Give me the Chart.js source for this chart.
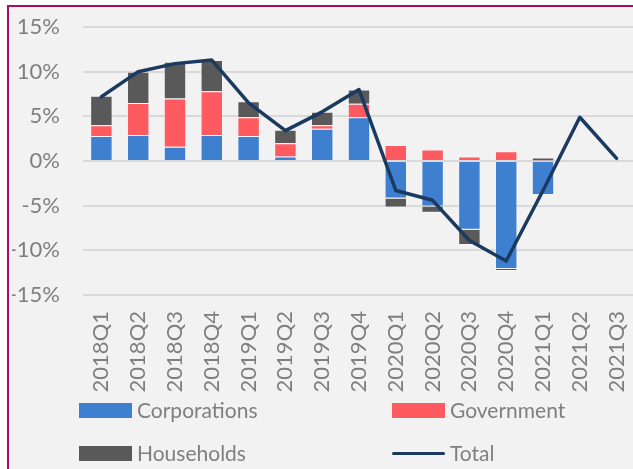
<!DOCTYPE html>
<html>
<head>
<meta charset="utf-8">
<script src="https://cdn.jsdelivr.net/npm/chart.js@4/dist/chart.umd.min.js"></script>
<style>
  html, body { margin: 0; padding: 0; background: #fff; overflow: hidden; width: 633px; height: 469px; }
  .frame {
    position: absolute; left: 7px; top: 5px; width: 640px; height: 480px;
    border-left: 2px solid #a5105c; border-top: 2px solid #a5105c;
    background: #f2f2f2;
  }
  #chart { position: absolute; left: 0; top: 0; }
  .legend { position: absolute; font-family: Lato, sans-serif; font-size: 21px; color: #7f7f7f; }
  .item { position: absolute; height: 24px; line-height: 24px; white-space: nowrap; }
  .swatch { position: absolute; left: 0; top: 5px; width: 53px; height: 15px; }
  .swatch.line { top: 11px; height: 3px; border-radius: 2px; }
  .item span { position: absolute; left: 58px; top: 0; }
</style>
</head>
<body>
<div class="frame">
  <canvas id="chart" width="630" height="462"></canvas>
  <div class="legend" id="legend"></div>
</div>
<script>
const categories = ['2018Q1', '2018Q2', '2018Q3', '2018Q4', '2019Q1', '2019Q2', '2019Q3', '2019Q4',
  '2020Q1', '2020Q2', '2020Q3', '2020Q4', '2021Q1', '2021Q2', '2021Q3'];
const corporations = [2.8, 2.9, 1.6, 2.9, 2.8, 0.5, 3.6, 4.9, -4.2, -5.1, -7.7, -12.1, -3.8, null, null];
const government = [1.2, 3.6, 5.4, 4.9, 2.1, 1.5, 0.4, 1.5, 1.8, 1.3, 0.5, 1.1, 0.05, null, null];
const households = [3.3, 3.5, 4.1, 3.5, 1.8, 1.5, 1.5, 1.6, -1.0, -0.7, -1.7, -0.2, 0.35, null, null];
const total = [7.2, 10.0, 10.9, 11.3, 6.5, 3.4, 5.5, 8.0, -3.3, -4.4, -8.9, -11.2, -3.3, 4.9, 0.3];
const yTicks = [-15, -10, -5, 0, 5, 10, 15];

const colors = {
  corporations: '#3f7fd0',
  government: '#ff5a5f',
  households: '#595959',
  total: '#1b3a60'
};
const tickFont = { family: 'Lato, sans-serif', size: 22 };
const tickColor = '#7f7f7f';

function barSet(label, data, color) {
  return {
    type: 'bar', label: label, data: data, backgroundColor: color,
    borderColor: 'rgba(255,255,255,0.35)', borderWidth: 1,
    stack: 'bars', order: 1, barPercentage: 1, categoryPercentage: 0.61
  };
}

const chart = new Chart(document.getElementById('chart'), {
  data: {
    labels: categories,
    datasets: [
      {
        type: 'line', label: 'Total', data: total, borderColor: colors.total,
        backgroundColor: colors.total, borderWidth: 3.5, pointRadius: 0, tension: 0,
        borderJoinStyle: 'round', borderCapStyle: 'round', stack: 'line', order: 0
      },
      barSet('Corporations', corporations, colors.corporations),
      barSet('Government', government, colors.government),
      barSet('Households', households, colors.households)
    ]
  },
  options: {
    responsive: false,
    animation: false,
    devicePixelRatio: 1,
    layout: { padding: { left: 3, right: 4, top: 20, bottom: 68 } },
    plugins: { legend: { display: false }, tooltip: { enabled: false } },
    scales: {
      x: {
        stacked: true,
        grid: { display: false, drawTicks: false },
        border: { display: false },
        ticks: { color: tickColor, font: tickFont, minRotation: 90, maxRotation: 90, padding: 16 },
        afterFit: (s) => { s.height = 106; s.paddingLeft = 0; s.paddingRight = 0; }
      },
      y: {
        stacked: true,
        min: -15, max: 15,
        afterBuildTicks: (s) => { s.ticks = yTicks.map(v => ({ value: v })); },
        grid: { color: '#d9d9d9', lineWidth: 2, drawTicks: false },
        border: { display: false },
        ticks: { color: tickColor, font: tickFont, padding: 23, callback: (v) => v + '%' },
        afterFit: (s) => { s.width = 71; s.paddingTop = 0; s.paddingBottom = 0; }
      }
    }
  }
});

// legend in two columns, like the original
const legendItems = [
  { label: 'Corporations', color: colors.corporations, x: 70, y: 391 },
  { label: 'Government', color: colors.government, x: 383, y: 391 },
  { label: 'Households', color: colors.households, x: 70, y: 434 },
  { label: 'Total', color: colors.total, x: 383, y: 434, line: true }
];
const legend = document.getElementById('legend');
legendItems.forEach(it => {
  const d = document.createElement('div');
  d.className = 'item';
  d.style.left = it.x + 'px';
  d.style.top = it.y + 'px';
  d.innerHTML = '<div class="swatch' + (it.line ? ' line' : '') + '" style="background:' + it.color + '"></div><span>' + it.label + '</span>';
  legend.appendChild(d);
});
</script>
</body>
</html>
